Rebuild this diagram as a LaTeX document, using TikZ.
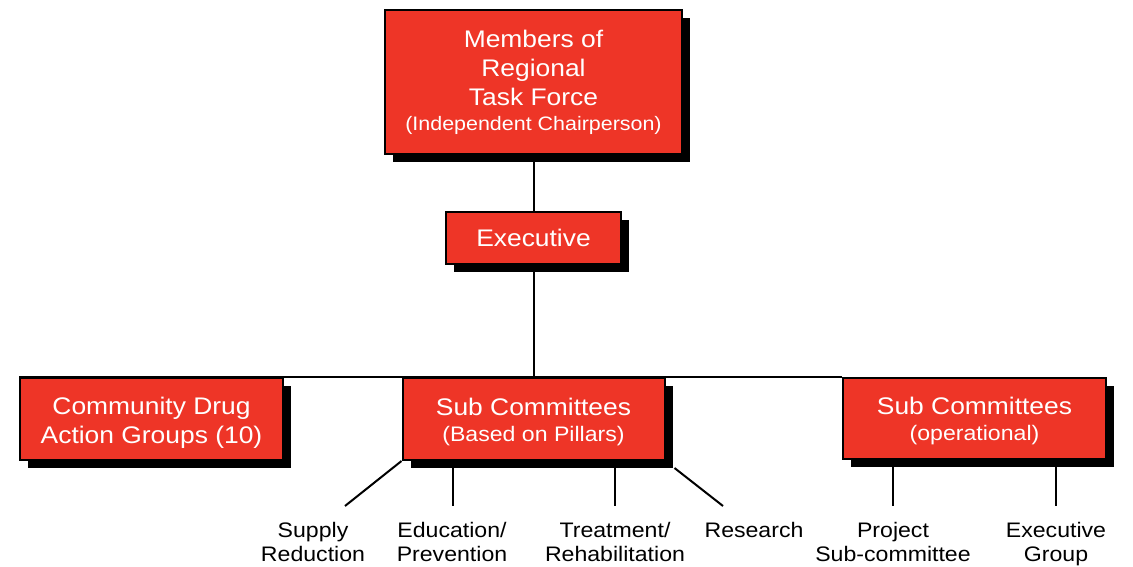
\documentclass[tikz,border=0pt]{standalone}
\usepackage{fontspec}
\setmainfont{Liberation Sans}[FakeStretch=1.1]
\usetikzlibrary{shadows,calc,backgrounds}
\definecolor{boxred}{RGB}{238,53,39}
\tikzset{
  orgbox/.style={draw=black, line width=2pt, fill=boxred, text=white, align=center,
    inner sep=0pt, general shadow={fill=black, shadow xshift=8pt, shadow yshift=-8pt}},
  big/.style={font=\fontsize{24}{29}\selectfont},
  boxtext/.style={text=white, align=center, inner sep=0pt, font=\fontsize{24}{29}\selectfont},
  lbl/.style={align=center, inner sep=0pt, anchor=base, font=\fontsize{21}{24}\selectfont},
  conn/.style={line width=2pt, black}
}
\begin{document}
\begin{tikzpicture}[x=1pt,y=-1pt]
\useasboundingbox (0,0) rectangle (1133,567);
% boxes
\node[orgbox, big, minimum width=297pt, minimum height=144pt] (top) at (533.5,82)
  {Members of\\Regional\\Task Force\\[-4pt]{\fontsize{19.5}{23}\selectfont (Independent Chairperson)}};
\node[orgbox, big, minimum width=175pt, minimum height=52pt] (exec) at (533.5,238) {Executive};
\node[orgbox, minimum width=263pt, minimum height=82pt] (cdag) at (151.5,419) {};
\node[boxtext] (cdagt) at (151.5,423) {Community Drug\\Action Groups (10)};
\node[orgbox, minimum width=262pt, minimum height=82pt] (mid) at (533.5,419) {};
\node[boxtext] (midt) at (533.5,421.5)
  {Sub Committees\\[-3pt]{\fontsize{21}{25}\selectfont (Based on Pillars)}};
\node[orgbox, minimum width=263pt, minimum height=81pt] (opr) at (974.5,418.5) {};
\node[boxtext] (oprt) at (974.5,421)
  {Sub Committees\\[-3pt]{\fontsize{21}{25}\selectfont (operational)}};
% labels
\node[lbl] (supply) at (313,561) {Supply\\Reduction};
\node[lbl] (edu) at (452,561) {Education/\\Prevention};
\node[lbl] (treat) at (615,561) {Treatment/\\Rehabilitation};
\node[lbl] (res) at (754,537) {Research};
\node[lbl] (proj) at (893,561) {Project\\Sub-committee};
\node[lbl] (exgr) at (1056,561) {Executive\\Group};
% connector ends
\coordinate (csup) at (345,506);
\coordinate (cedu) at (453,506);
\coordinate (ctre) at (615,506);
\coordinate (cres) at (723,506);
\coordinate (cproj) at (893,506);
\coordinate (cexg) at (1056,506);
\begin{scope}[on background layer]
\draw[conn] (top.south) -- (exec.north);
\draw[conn] (exec.south) -- (mid.north);
\draw[conn] (cdag.north west) -- (opr.north west);
\draw[conn] (mid.south west) -- (csup);
\draw[conn] (cedu |- mid.south) -- (cedu);
\draw[conn] (ctre |- mid.south) -- (ctre);
\draw[conn] ($(mid.south east)+(9,7)$) -- (cres);
\draw[conn] (cproj |- opr.south) -- (cproj);
\draw[conn] (cexg |- opr.south) -- (cexg);
\end{scope}
\end{tikzpicture}
\end{document}
